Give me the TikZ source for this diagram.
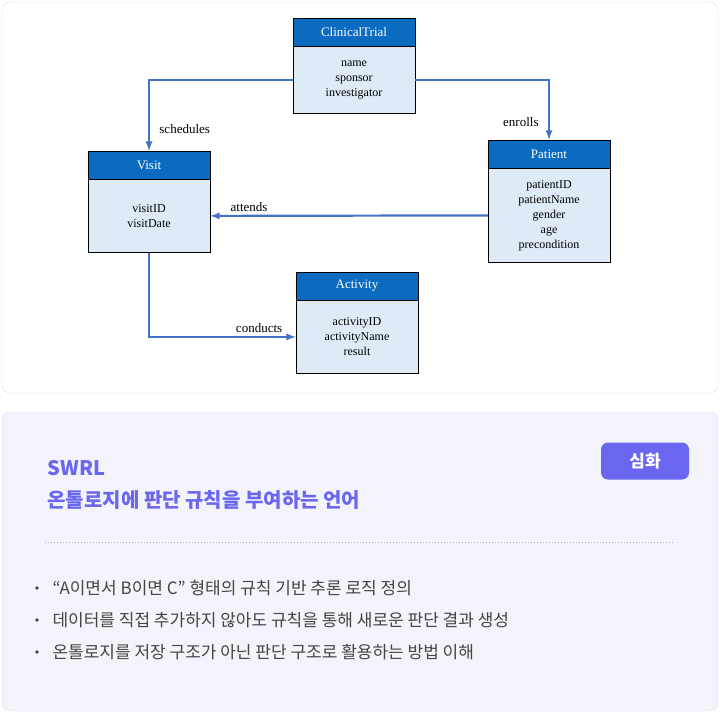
\documentclass[tikz,border=0pt]{standalone}
\usepackage{fontspec}
\setmainfont{Liberation Serif}
\newfontfamily\kr{Noto Sans CJK KR}
\usetikzlibrary{positioning}
\definecolor{hdrblue}{HTML}{0B6BC1}
\definecolor{bodyblue}{HTML}{DEEAF6}
\definecolor{linkblue}{HTML}{4472C4}
\definecolor{panelline}{HTML}{DCDCF5}
\definecolor{panelfill}{HTML}{F3F3FC}
\definecolor{accent}{HTML}{6B66F0}
\definecolor{bodytext}{HTML}{444444}
\tikzset{
    % class box header and body
    hdr/.style={draw=black, fill=hdrblue, text=white, minimum width=122pt, minimum height=28pt, inner sep=0pt, font=\fontsize{13}{15}\selectfont},
    attrs/.style={draw=black, fill=bodyblue, minimum width=122pt, inner sep=0pt, font=\fontsize{12}{15}\selectfont, align=center},
    link/.style={draw=linkblue, line width=2.2pt, -latex},
    lbl/.style={font=\fontsize{13}{15}\selectfont}
}
\begin{document}
\begin{tikzpicture}[x=1pt, y=-1pt]
    \useasboundingbox (0,0) rectangle (720,713);
    \draw[panelline, fill=white, rounded corners=8pt] (2,2) rectangle (718,393);
    \draw[panelline, fill=panelfill, rounded corners=8pt] (2,412) rectangle (718,711);
    % classes
    \node[hdr] (trial) at (354,32) {ClinicalTrial};
    \node[attrs, minimum height=67pt, below=0pt of trial] (trialB) {name\\sponsor\\investigator};
    \node[hdr] (visit) at (149,165) {Visit};
    \node[attrs, minimum height=73pt, below=0pt of visit] (visitB) {visitID\\visitDate};
    \node[hdr] (patient) at (549,154) {Patient};
    \node[attrs, minimum height=94pt, below=0pt of patient] (patientB) {patientID\\patientName\\gender\\age\\precondition};
    \node[hdr] (activity) at (357,286) {Activity};
    \node[attrs, minimum height=73pt, below=0pt of activity] (activityB) {activityID\\activityName\\result};
    % relations
    \draw[link] (trialB.west) -| (visit.north) node[lbl, pos=0.85, right=6pt] {schedules};
    \draw[link] (trialB.east) -| (patient.north) node[lbl, pos=0.85, left=6pt] {enrolls};
    \draw[link] (patientB.west) -- (visitB.east) node[lbl, pos=0.86, above] {attends};
    \coordinate (bend) at (visitB.south |- activityB.west);
    \draw[link] (visitB.south) -- (bend) -- (activityB.west) node[lbl, pos=0.75, above] {conducts};
    % summary panel
    \node[anchor=west, text=accent, font=\kr\bfseries\fontsize{20}{24}\selectfont] (title) at (44,468) {SWRL};
    \node[anchor=west, text=accent, font=\kr\bfseries\fontsize{20}{24}\selectfont] (subtitle) at (44,500) {온톨로지에 판단 규칙을 부여하는 언어};
    \node[fill=accent, text=white, rounded corners=7pt, minimum width=88pt, minimum height=37pt, font=\kr\bfseries\fontsize{17}{20}\selectfont] (badge) at (645,461) {심화};
    \draw[bodytext!40, dotted, line width=1pt] (45,542) -- (675,542);
    \foreach \y/\t in {588/{“A이면서 B이면 C” 형태의 규칙 기반 추론 로직 정의},
                       620/{데이터를 직접 추가하지 않아도 규칙을 통해 새로운 판단 결과 생성},
                       652/{온톨로지를 저장 구조가 아닌 판단 구조로 활용하는 방법 이해}} {
        \fill[bodytext] (37,\y) circle (1.8pt);
        \node[anchor=west, text=bodytext, font=\kr\fontsize{17}{20}\selectfont] at (49,\y) {\t};
    }
\end{tikzpicture}
\end{document}
